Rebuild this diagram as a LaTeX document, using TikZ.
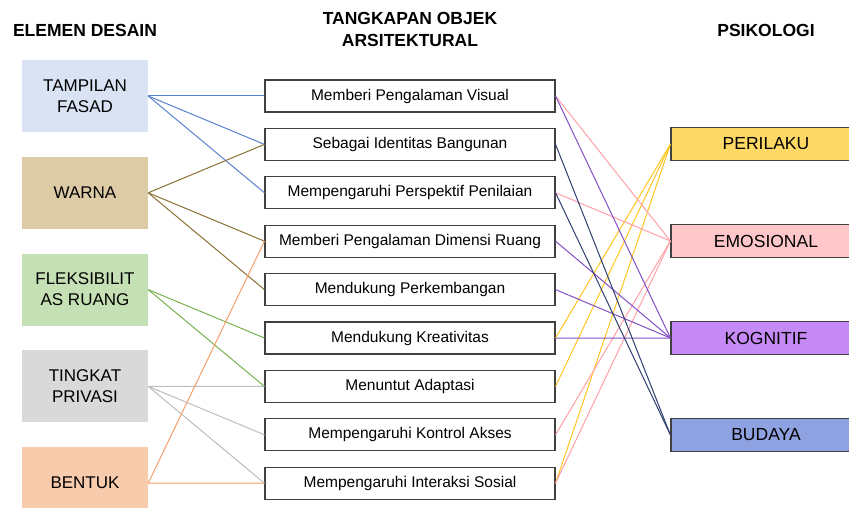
\documentclass[tikz,border=0pt]{standalone}
\usepackage{fontspec}
\setmainfont{Liberation Sans}
\usepackage{xcolor}
\usetikzlibrary{positioning}
\definecolor{boxline}{HTML}{404040}
\definecolor{cfasad}{HTML}{DAE3F3}
\definecolor{cwarna}{HTML}{DDCBA6}
\definecolor{cfleks}{HTML}{C5E0B4}
\definecolor{cprivasi}{HTML}{D9D9D9}
\definecolor{cbentuk}{HTML}{F8CBAD}
\definecolor{lfasad}{HTML}{5A82D2}
\definecolor{lwarna}{HTML}{8C7034}
\definecolor{lfleks}{HTML}{78B050}
\definecolor{lprivasi}{HTML}{BDBDBD}
\definecolor{lbentuk}{HTML}{F4A06A}
\definecolor{cperilaku}{HTML}{FFD966}
\definecolor{cemosi}{HTML}{FFC7CA}
\definecolor{ckognitif}{HTML}{C58AF5}
\definecolor{cbudaya}{HTML}{8EA2E2}
\definecolor{lperilaku}{HTML}{FFC41F}
\definecolor{lemosi}{HTML}{FFA0A8}
\definecolor{lkognitif}{HTML}{8250C4}
\definecolor{lbudaya}{HTML}{2E3F72}

\begin{document}
\begin{tikzpicture}[x=1pt,y=-1pt]
    \tikzset{
        elemen/.style={rectangle, draw=none, minimum width=126pt, minimum height=72pt, inner sep=2pt, align=center, font=\fontsize{17}{21}\selectfont},
        tangkap/.style={rectangle, draw=boxline, line width=1.1pt, fill=white, minimum width=290pt, minimum height=32pt, inner sep=1pt, font=\fontsize{15.5}{18}\selectfont},
        psiko/.style={rectangle, draw=boxline, line width=1.1pt, minimum width=190pt, minimum height=33pt, inner sep=1pt, font=\fontsize{17.5}{21}\selectfont},
        judul/.style={align=center, font=\bfseries\fontsize{17.5}{22}\selectfont},
        garis/.style={draw, line width=1pt},
    }
    \useasboundingbox (0,0) rectangle (849,508);

    % judul kolom
    \node[judul] (jelemen) at (85,30) {ELEMEN DESAIN};
    \node[judul] (jtangkap) at (410,29) {TANGKAPAN OBJEK\\ARSITEKTURAL};
    \node[judul] (jpsiko) at (766,30) {PSIKOLOGI};

    % elemen desain
    \node[elemen, fill=cfasad] (fasad) at (85,96) {TAMPILAN\\FASAD};
    \node[elemen, fill=cwarna, below=24.4pt of fasad] (warna) {WARNA};
    \node[elemen, fill=cfleks, below=24.4pt of warna] (fleks) {FLEKSIBILIT\\AS RUANG};
    \node[elemen, fill=cprivasi, below=24.4pt of fleks] (privasi) {TINGKAT\\PRIVASI};
    \node[elemen, fill=cbentuk, below=24.4pt of privasi] (bentuk) {BENTUK};

    % tangkapan objek
    \node[tangkap] (visual) at (410,96) {Memberi Pengalaman Visual};
    \node[tangkap, below=15.3pt of visual] (identitas) {Sebagai Identitas Bangunan};
    \node[tangkap, below=15.3pt of identitas] (perspektif) {Mempengaruhi Perspektif Penilaian};
    \node[tangkap, below=15.3pt of perspektif] (dimensi) {Memberi Pengalaman Dimensi Ruang};
    \node[tangkap, below=15.3pt of dimensi] (kembang) {Mendukung Perkembangan};
    \node[tangkap, below=15.3pt of kembang] (kreatif) {Mendukung Kreativitas};
    \node[tangkap, below=15.3pt of kreatif] (adaptasi) {Menuntut Adaptasi};
    \node[tangkap, below=15.3pt of adaptasi] (akses) {Mempengaruhi Kontrol Akses};
    \node[tangkap, below=15.3pt of akses] (sosial) {Mempengaruhi Interaksi Sosial};

    % psikologi
    \node[psiko, fill=cperilaku] (perilaku) at (766,144) {PERILAKU};
    \node[psiko, fill=cemosi, below=62.9pt of perilaku] (emosi) {EMOSIONAL};
    \node[psiko, fill=ckognitif, below=62.9pt of emosi] (kognitif) {KOGNITIF};
    \node[psiko, fill=cbudaya, below=62.9pt of kognitif] (budaya) {BUDAYA};

    % elemen -> tangkapan
    \foreach \t in {visual,identitas,perspektif}
        \path[garis, lfasad] (fasad.east) -- (\t.west);
    \foreach \t in {identitas,dimensi,kembang}
        \path[garis, lwarna] (warna.east) -- (\t.west);
    \foreach \t in {kreatif,adaptasi}
        \path[garis, lfleks] (fleks.east) -- (\t.west);
    \foreach \t in {adaptasi,akses,sosial}
        \path[garis, lprivasi] (privasi.east) -- (\t.west);
    \foreach \t in {dimensi,sosial}
        \path[garis, lbentuk] (bentuk.east) -- (\t.west);

    % tangkapan -> psikologi
    \foreach \s in {kreatif,adaptasi,sosial}
        \path[garis, lperilaku] (\s.east) -- (perilaku.west);
    \foreach \s in {visual,perspektif,akses,sosial}
        \path[garis, lemosi] (\s.east) -- (emosi.west);
    \foreach \s in {visual,dimensi,kembang,kreatif}
        \path[garis, lkognitif] (\s.east) -- (kognitif.west);
    \foreach \s in {identitas,perspektif}
        \path[garis, lbudaya] (\s.east) -- (budaya.west);

\end{tikzpicture}
\end{document}
